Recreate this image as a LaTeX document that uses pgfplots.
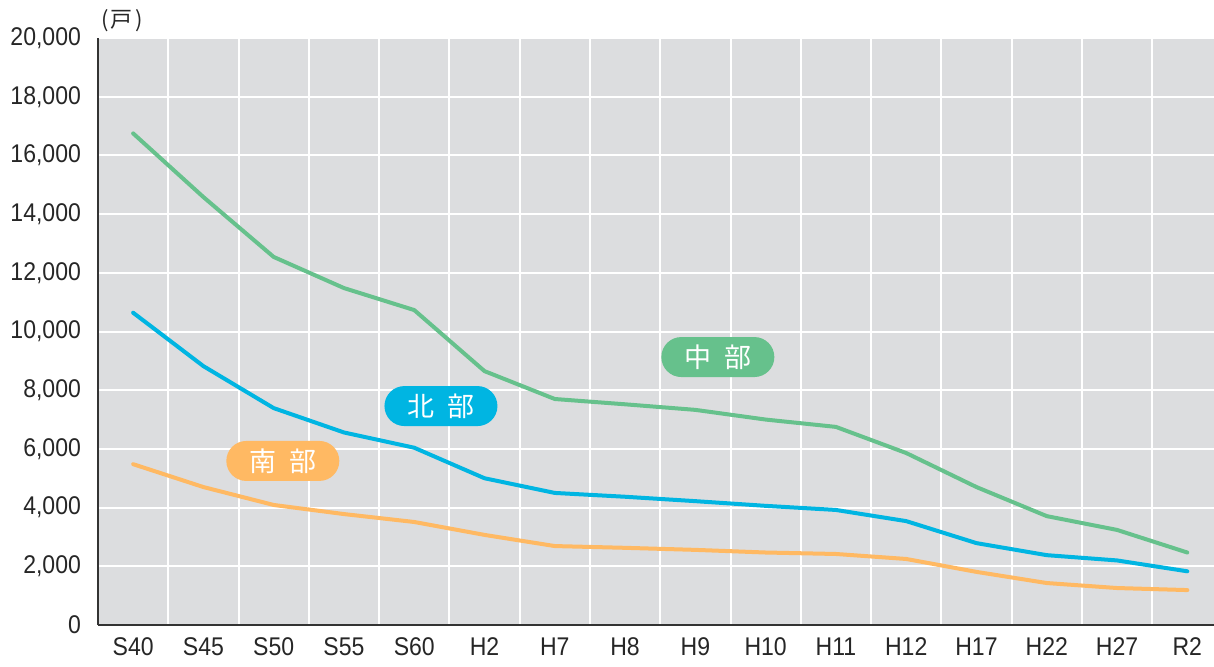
\documentclass[border=0pt]{standalone}
\usepackage{fontspec}
\setmainfont{Liberation Sans}[FakeStretch=0.9]
\newfontfamily\cjk{Noto Sans CJK JP}
\usepackage{pgfplots}
\pgfplotsset{compat=1.18}
\definecolor{bg}{HTML}{DCDDDF}
\definecolor{axisc}{HTML}{333333}
\definecolor{cgreen}{HTML}{66C18C}
\definecolor{cblue}{HTML}{00B5E2}
\definecolor{corange}{HTML}{FFB963}
\begin{document}
\begin{tikzpicture}
\begin{axis}[
  scale only axis, width=558pt, height=293.5pt,
  xmin=-0.5, xmax=15.38, ymin=0, ymax=20000,
  axis background/.style={fill=bg},
  axis x line*=bottom, axis y line*=left,
  axis line style={draw=axisc, line width=1pt, -},
  xtick={0,...,15},
  xticklabels={S40,S45,S50,S55,S60,H2,H7,H8,H9,H10,H11,H12,H17,H22,H27,R2},
  minor xtick={0.5,1.5,...,14.5},
  xminorgrids=true, xmajorgrids=false, ymajorgrids=true,
  grid style={white, line width=1pt},
  minor grid style={white, line width=1pt},
  major tick length=0pt, minor tick length=0pt,
  ytick={0,2000,...,20000},
  scaled y ticks=false,
  tick label style={font=\fontsize{12.8}{12.8}\selectfont, text=black!85},
  yticklabel style={xshift=-5pt, /pgf/number format/fixed, /pgf/number format/1000 sep={,}, /pgf/number format/assume math mode=true},
  xticklabel style={yshift=-3pt},
  clip=false,
]
\addplot[cgreen, line width=2pt, line join=round, line cap=round] coordinates {
 (0,16750) (1,14580) (2,12540) (3,11480) (4,10730) (5,8650) (6,7700) (7,7520)
 (8,7330) (9,7000) (10,6750) (11,5860) (12,4700) (13,3710) (14,3240) (15,2470)};
\addplot[cblue, line width=2pt, line join=round, line cap=round] coordinates {
 (0,10640) (1,8820) (2,7390) (3,6560) (4,6040) (5,5000) (6,4500) (7,4370)
 (8,4220) (9,4060) (10,3920) (11,3540) (12,2790) (13,2380) (14,2200) (15,1830)};
\addplot[corange, line width=2pt, line join=round, line cap=round] coordinates {
 (0,5480) (1,4700) (2,4090) (3,3780) (4,3510) (5,3070) (6,2690) (7,2630)
 (8,2560) (9,2470) (10,2420) (11,2250) (12,1810) (13,1430) (14,1260) (15,1190)};
\tikzset{lab/.style={rounded corners=10pt, minimum width=56.5pt, minimum height=20pt, inner sep=0pt, text=white, font=\cjk\fontsize{13.5}{13.5}\selectfont}}
\node[lab, fill=cgreen] at (axis cs:8.32,9130) {中\hspace{0.5em}部};
\node[lab, fill=cblue] at (axis cs:4.38,7460) {北\hspace{0.5em}部};
\node[lab, fill=corange] at (axis cs:2.13,5590) {南\hspace{0.5em}部};
\node[font=\cjk\fontsize{11}{11}\selectfont, text=black!85, inner sep=0pt] at ([xshift=12pt,yshift=8.5pt]rel axis cs:0,1) {(\hspace{0.1em}戸\hspace{0.1em})};
\end{axis}
\pgfresetboundingbox
\useasboundingbox ([xshift=-49pt,yshift=-20.5pt]current axis.south west) rectangle ([yshift=19pt]current axis.north east);
\end{tikzpicture}
\end{document}
